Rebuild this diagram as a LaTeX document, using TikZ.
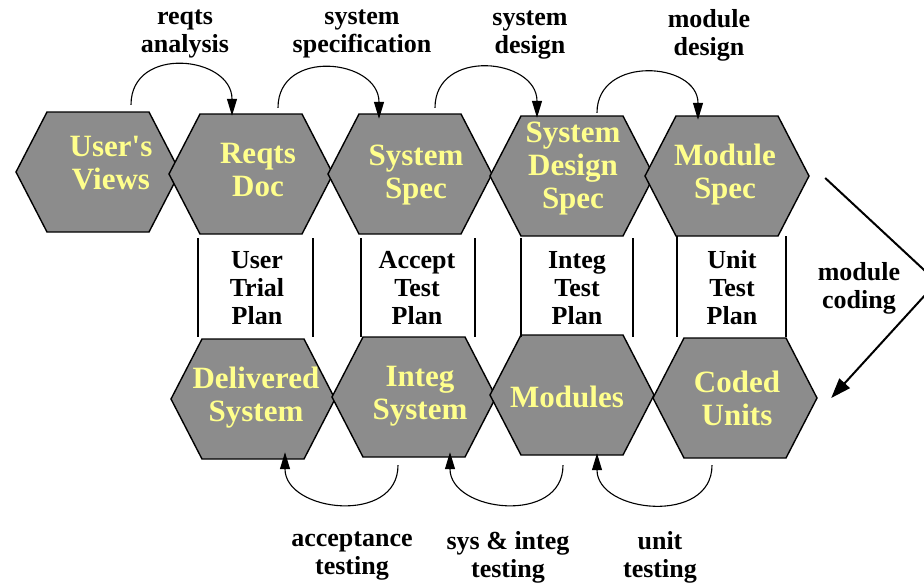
\documentclass[tikz,border=0pt]{standalone}
\usepackage{fontspec}
\setmainfont{Liberation Serif}[Ligatures=TeXOff]
\usetikzlibrary{arrows.meta}
\definecolor{hexgray}{RGB}{140,140,140}
\definecolor{hexyellow}{RGB}{255,255,140}
\tikzset{
  hexpoly/.style={fill=hexgray, draw=black, line width=1.4pt, line join=miter},
  hexframe/.style={inner sep=0pt, minimum width=164pt, minimum height=120pt},
  hextext/.style={text=hexyellow, font=\bfseries\fontsize{31}{33}\selectfont, align=center, inner sep=0pt},
  lbl/.style={font=\bfseries\fontsize{26}{28}\selectfont, align=center, inner sep=0pt},
  flow/.style={line width=1.1pt, -{Triangle[length=17pt,width=10pt]}},
  codearrow/.style={line width=2pt, line join=miter, -{Triangle[length=20pt,width=14pt]}},
  divider/.style={line width=1.8pt},
}
\newcommand\hexcell[6]{%
  \filldraw[hexpoly] ({#2-82},#3) -- ({#2-51},{#3-60}) -- ({#2+51},{#3-60}) -- ({#2+82},#3) -- ({#2+51},{#3+60}) -- ({#2-51},{#3+60}) -- cycle;
  \node[hexframe] (#1) at (#2,#3) {};
  \node[hextext] (#1t) at (#5,#6) {#4};
}
\begin{document}
\begin{tikzpicture}[x=1pt,y=-1pt]
\useasboundingbox (0,0) rectangle (924,584);
\clip (0,0) rectangle (924,584);
% top row
\hexcell{uv}{98}{172}{User's\\Views}{111}{163}
\hexcell{rd}{251}{174}{Reqts\\Doc}{258}{170}
\hexcell{ss}{410}{174}{System\\Spec}{416}{175}
\hexcell{sds}{572}{176}{System\\Design\\Spec}{573}{169}
\hexcell{ms}{727}{176}{Module\\Spec}{725}{175}
% bottom row
\hexcell{ds}{253}{399}{Delivered\\System}{256}{398}
\hexcell{is}{414}{397}{Integ\\System}{420}{396}
\hexcell{mo}{572}{395}{Modules}{567}{397}
\hexcell{cu}{735}{398}{Coded\\Units}{737}{398}
% test plans
\draw[divider] (198,238) -- (198,337);
\draw[divider] (313,238) -- (313,337);
\draw[divider] (361,238) -- (361,337);
\draw[divider] (475,238) -- (475,337);
\draw[divider] (521,238) -- (521,337);
\draw[divider] (633,238) -- (633,337);
\draw[divider] (677,236) -- (677,337);
\draw[divider] (786,236) -- (786,337);
\node[lbl] (utp) at (257,288) {User\\Trial\\Plan};
\node[lbl] (atp) at (417,288) {Accept\\Test\\Plan};
\node[lbl] (itp) at (577,288) {Integ\\Test\\Plan};
\node[lbl] (unp) at (732,288) {Unit\\Test\\Plan};
% top arrows
\draw[flow] ([xshift=33pt,yshift=7pt]uv.north) .. controls +(0,-60) and +(0,-60) .. ([xshift=-19pt,yshift=-2pt]rd.north);
\draw[flow] ([xshift=27pt,yshift=6pt]rd.north) .. controls +(0,-60) and +(0,-60) .. ([xshift=-31pt,yshift=-5pt]ss.north);
\draw[flow] ([xshift=25pt,yshift=6pt]ss.north) .. controls +(0,-60) and +(0,-60) .. ([xshift=-35pt,yshift=-2pt]sds.north);
\draw[flow] ([xshift=25pt,yshift=3pt]sds.north) .. controls +(0,-58) and +(0,-58) .. ([xshift=-29pt,yshift=-4pt]ms.north);
\node[lbl] (la) at (185,34) {reqts\\analysis};
\node[lbl] (lb) at (362,34) {system\\specification};
\node[lbl] (lc) at (530,35) {system\\design};
\node[lbl] (ld) at (709,35) {module\\design};
% module coding
\coordinate (mcv) at (937,282);
\draw[codearrow] ([xshift=16pt,yshift=-2pt]ms.east) -- (mcv) -- ([xshift=14pt]cu.east);
\node[lbl] (le) at (859,288) {module\\coding};
% bottom arrows
\draw[flow] ([xshift=-16pt,yshift=-8pt]is.south) .. controls +(0,60) and +(0,60) .. ([xshift=32pt,yshift=7pt]ds.south);
\draw[flow] ([xshift=-9pt,yshift=-10pt]mo.south) .. controls +(0,60) and +(0,60) .. ([xshift=36pt,yshift=5pt]is.south);
\draw[flow] ([xshift=-23pt,yshift=-7pt]cu.south) .. controls +(0,60) and +(0,60) .. ([xshift=25pt,yshift=2pt]mo.south);
\node[lbl] (lf) at (352,556) {acceptance\\testing};
\node[lbl] (lg) at (508,557) {sys \& integ\\testing};
\node[lbl] (lh) at (660,557) {unit\\testing};
\end{tikzpicture}
\end{document}
